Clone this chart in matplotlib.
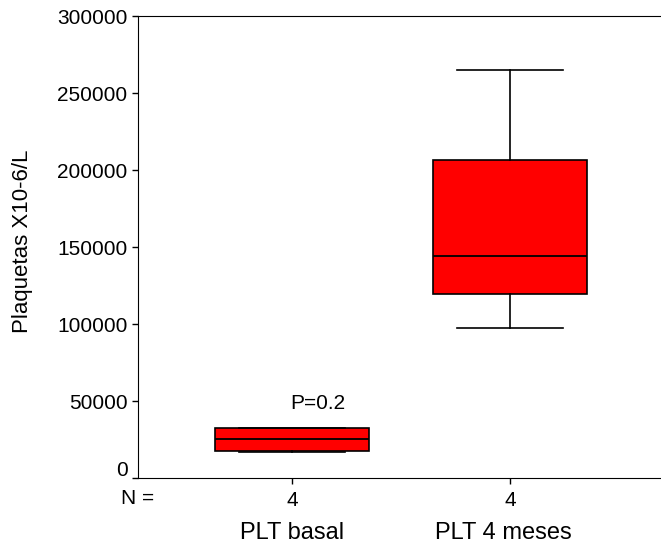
import matplotlib
matplotlib.use("Agg")
import matplotlib.pyplot as plt
import matplotlib.transforms as mtransforms

plt.rcParams["font.family"] = ["Liberation Sans", "DejaVu Sans"]

# box statistics
groups = ["PLT basal", "PLT 4 meses"]
n_counts = [4, 4]
medians = [25300, 144200]
q1s = [17500, 119500]
q3s = [32500, 206500]
whis_lo = [16900, 97400]
whis_hi = [32500, 265000]
p_text = "P=0.2"

stats = []
for i in range(len(groups)):
    stats.append({"med": medians[i], "q1": q1s[i], "q3": q3s[i],
                  "whislo": whis_lo[i], "whishi": whis_hi[i],
                  "fliers": [], "label": str(n_counts[i])})

fig = plt.figure(figsize=(6.61, 5.46), dpi=100)
ax = fig.add_axes([0.2088, 0.1245, 0.7912, 0.8453])

positions = [1, 2]
ax.bxp(stats, positions=positions, widths=0.706, capwidths=0.49,
       patch_artist=True, showfliers=False,
       boxprops=dict(facecolor="#ff0000", edgecolor="black", linewidth=1.2),
       medianprops=dict(color="black", linewidth=1.3),
       whiskerprops=dict(color="black", linewidth=1.2),
       capprops=dict(color="black", linewidth=1.2))

ax.set_xlim(0.294, 2.693)
ax.set_ylim(0, 300000)
ax.set_yticks(range(0, 300001, 50000))
ax.spines["right"].set_visible(False)
ax.tick_params(axis="both", direction="out", length=4, width=1, labelsize=15)
ax.tick_params(axis="x", pad=5)

# SPSS puts the 0 label a bit above its tick
fig.canvas.draw()
lbl0 = ax.get_yticklabels()[0]
lbl0.set_transform(lbl0.get_transform() + mtransforms.ScaledTranslation(0, 10 / 100, fig.dpi_scale_trans))

fig.text(23 / 661, 1 - 241 / 546, "Plaquetas X10-6/L", rotation=90,
         ha="center", va="center", fontsize=16)

trans = mtransforms.blended_transform_factory(ax.transData, ax.transAxes)
ax.text(0.0, -0.045, "N =", transform=ax.transAxes, ha="center", va="center", fontsize=15)
label_shift = [0.0, -0.03]  # the long label sits slightly left of its tick
for x, g, s in zip(positions, groups, label_shift):
    ax.text(x + s, -0.119, g, transform=trans, ha="center", va="center", fontsize=17)

ax.text(1.12, 48700, p_text, ha="center", va="center", fontsize=15)

fig.savefig("out.png", dpi=100)
